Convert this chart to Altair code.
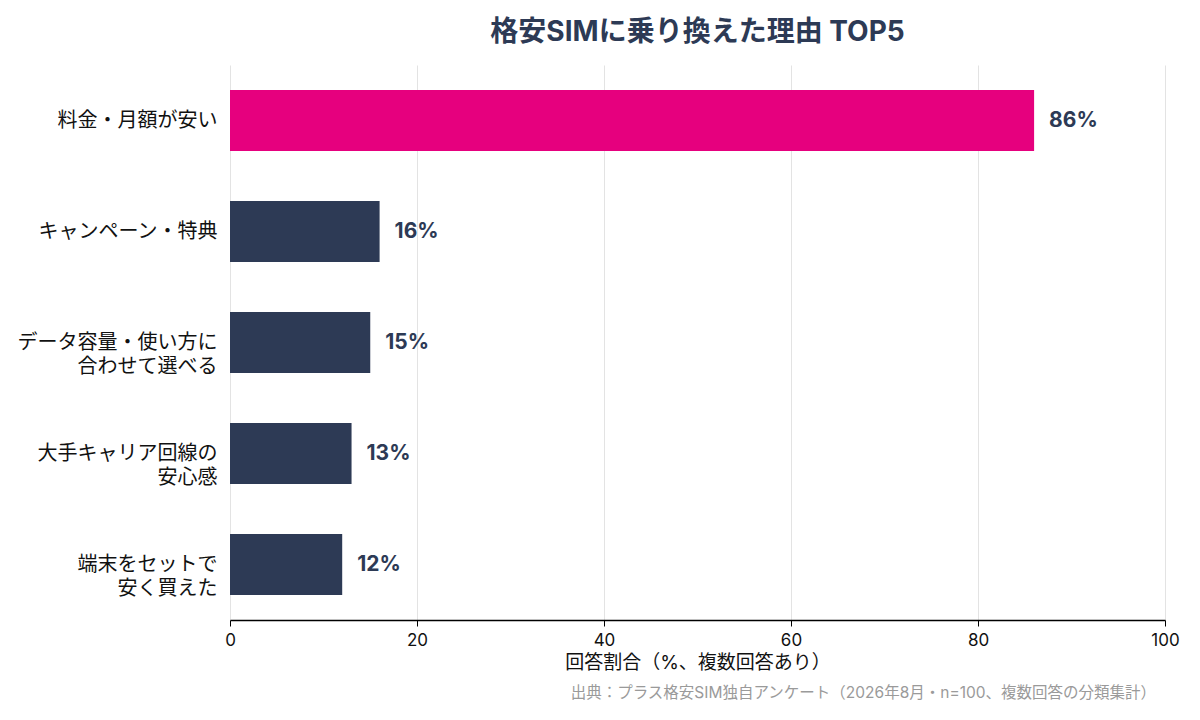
import altair as alt
import pandas as pd

reasons = [
    "料金・月額が安い",
    "キャンペーン・特典",
    "データ容量・使い方に|合わせて選べる",
    "大手キャリア回線の|安心感",
    "端末をセットで|安く買えた",
]
shares = [86, 16, 15, 13, 12]
highlight = [True, False, False, False, False]
source_note = "出典：プラス格安SIM独自アンケート（2026年8月・n=100、複数回答の分類集計）"

df = pd.DataFrame({"reason": reasons, "share": shares, "top": highlight})
df["label"] = df["share"].astype(str) + "%"

FONT = "Inter, Noto Sans CJK JP"
NAVY = "#2d3a55"

base = alt.Chart(df).encode(
    x=alt.X(
        "share:Q",
        scale=alt.Scale(domain=[0, 100]),
        title="回答割合（%、複数回答あり）",
        axis=alt.Axis(
            values=[0, 20, 40, 60, 80, 100],
            labelFontSize=17,
            labelColor="#111111",
            labelPadding=6,
            labelFlush=False,
            titleFontSize=19,
            titleFontWeight="normal",
            titleColor="#111111",
            titlePadding=5,
            domainColor="#000000",
            domainWidth=1.5,
            tickColor="#000000",
            tickSize=6,
            gridColor="#e3e3e3",
        ),
    ),
    y=alt.Y(
        "reason:N",
        sort=reasons,
        title=None,
        scale=alt.Scale(paddingInner=0.45, paddingOuter=0.225),
        axis=alt.Axis(
            labelExpr="split(datum.label, '|')",
            labelFontSize=20,
            labelLineHeight=24,
            labelColor="#111111",
            labelPadding=13,
            labelLimit=260,
            ticks=False,
            domain=False,
            grid=False,
        ),
    ),
)

bars = base.mark_bar().encode(
    color=alt.Color(
        "top:N",
        scale=alt.Scale(domain=[True, False], range=["#e6007e", NAVY]),
        legend=None,
    ),
)

values = base.mark_text(
    align="left", dx=15, fontSize=21, fontWeight="bold", color=NAVY, font=FONT
).encode(text="label:N")

footer = alt.Chart(pd.DataFrame({"t": [source_note]})).mark_text(
    align="right", baseline="middle", fontSize=15.5, color="#9a9a9a", font=FONT
).encode(x=alt.value(926), y=alt.value(628), text="t:N")

chart = (
    alt.layer(bars, values, footer)
    .properties(
        width=935,
        height=555,
        autosize=alt.AutoSizeParams(type="none"),
        padding={"left": 222, "top": 57, "right": 27, "bottom": 92},
        title=alt.TitleParams(
            "格安SIMに乗り換えた理由 TOP5",
            fontSize=28,
            fontWeight="bold",
            color=NAVY,
            font=FONT,
            offset=18,
        ),
    )
    .configure(font=FONT)
    .configure_view(stroke=None)
)

chart.save("out.html", embed_options={"renderer": "svg", "actions": False})
